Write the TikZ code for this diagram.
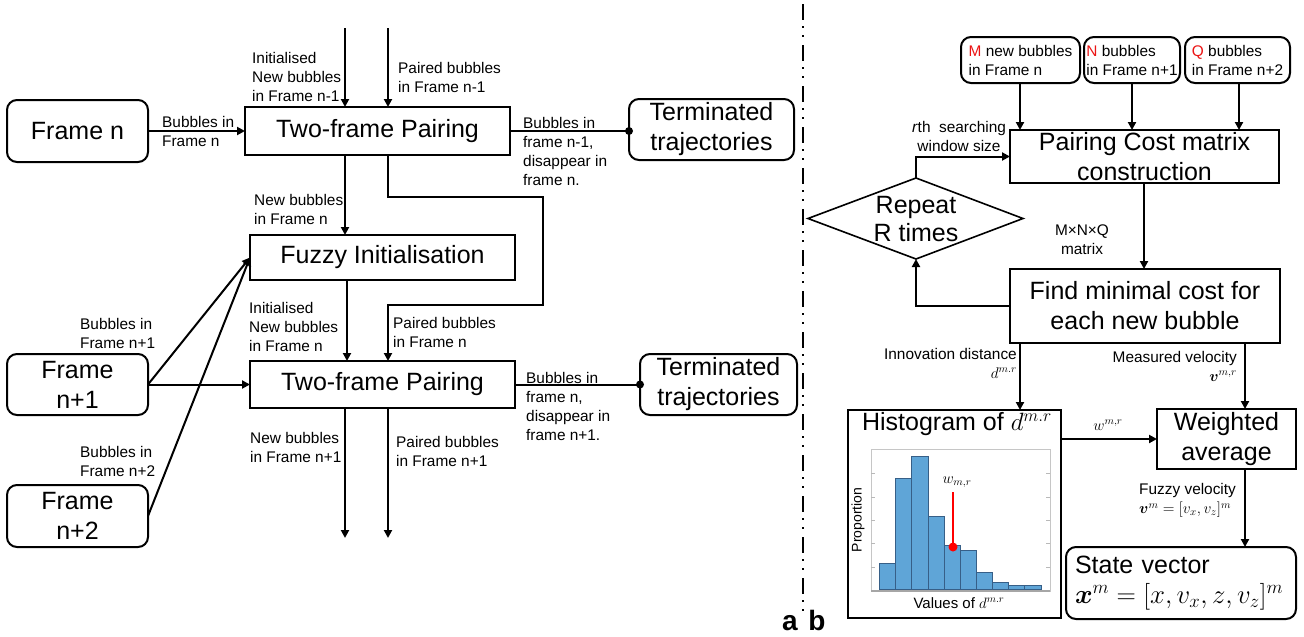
\RequirePackage{fix-cm}
\documentclass[tikz,border=0pt]{standalone}
\usepackage{amsmath}
\usepackage{fontspec}
\setmainfont{Liberation Sans}
\usetikzlibrary{arrows.meta}

\definecolor{barblue}{RGB}{95,165,215}
\definecolor{baredge}{RGB}{55,95,135}
\definecolor{mred}{RGB}{235,20,20}

\newcommand\fbig{\fontsize{25}{30}\selectfont}
\newcommand\fsmall{\fontsize{15.4}{19}\selectfont}

\begin{document}
\begin{tikzpicture}[x=1pt,y=-1pt,
  line/.style={line width=2pt},
  arr/.style={line, -{Triangle[length=8pt,width=8pt]}},
  box/.style={draw, line width=2pt, inner sep=0pt, outer sep=0pt, font=\fbig, align=center},
  rbox/.style={box, rounded corners=10pt},
  lab/.style={inner sep=0pt, font=\fsmall, align=left},
  labr/.style={inner sep=0pt, font=\fsmall, align=right}
]
\useasboundingbox (0,0) rectangle (1304,637);

% ---------------- part a ----------------
\node[rbox, minimum width=141pt, minimum height=62pt] (fn)  at (77.5,131)   {Frame n};
\node[rbox, minimum width=141pt, minimum height=61pt] (fn1) at (77.5,384.5) {Frame\\n+1};
\node[rbox, minimum width=141pt, minimum height=62pt] (fn2) at (77.5,516)   {Frame\\n+2};

\node[box, minimum width=265pt, minimum height=48pt] (tp1)   at (377.5,131)   {Two-frame Pairing};
\node[box, minimum width=265pt, minimum height=45pt] (fuzzy) at (382.5,257.5) {Fuzzy Initialisation};
\node[box, minimum width=265pt, minimum height=47pt] (tp2)   at (382.5,384.5) {Two-frame Pairing};

\node[rbox, minimum width=165pt, minimum height=61pt] (term1) at (711.5,129.5) {Terminated\\trajectories};
\node[rbox, minimum width=157pt, minimum height=61pt] (term2) at (718.5,384.5) {Terminated\\trajectories};

\coordinate (in1) at (345,28);
\coordinate (in2) at (388,28);
\coordinate (lp1) at (543,197);
\coordinate (lp2) at (543,305);
\coordinate (fzx) at (347,280);
\coordinate (out1) at (345,538);
\coordinate (out2) at (388,538);

\draw[arr] (in1) -- (in1 |- tp1.north);
\draw[arr] (in2) -- (in2 |- tp1.north);
\draw[arr] (fn) -- (tp1);
\draw[line] (tp1.east) -- (tp1.east -| term1.west);
\fill (tp1.east -| term1.west) circle (4pt);
\draw[arr] (tp1.south -| in1) -- (fuzzy.north -| in1);
\draw[arr] (tp1.south -| in2) |- (lp1) -- (lp2) -| (tp2.north -| in2);
\draw[arr] (fuzzy.south -| fzx) -- (tp2.north -| fzx);
\draw[line] (tp2.east) -- (tp2.east -| term2.west);
\fill (tp2.east -| term2.west) circle (4pt);
\draw[arr] (tp2.south -| out1) -- (out1);
\draw[arr] (tp2.south -| out2) -- (out2);
\draw[arr] (fn1.east) -- (fuzzy.west);
\draw[arr] (fn1.east) -- (tp2.west);
\draw[arr] (fn2.east) -- (fuzzy.west);

\node[lab, anchor=west] at (252,77)    {Initialised\\New bubbles\\in Frame n-1};
\node[lab, anchor=west] at (398,77)    {Paired bubbles\\in Frame n-1};
\node[lab, anchor=west] at (162,131.5) {Bubbles in\\Frame n};
\node[lab, anchor=west] at (523,151)   {Bubbles in\\frame n-1,\\disappear in\\frame n.};
\node[lab, anchor=west] at (254,209)   {New bubbles\\in Frame n};
\node[lab, anchor=west] at (249,327)   {Initialised\\New bubbles\\in Frame n};
\node[lab, anchor=west] at (393,332)   {Paired bubbles\\in Frame n};
\node[lab, anchor=west] at (526,406.5) {Bubbles in\\frame n,\\disappear in\\frame n+1.};
\node[lab, anchor=west] at (250,447.5) {New bubbles\\in Frame n+1};
\node[lab, anchor=west] at (396,451)   {Paired bubbles\\in Frame n+1};
\node[lab, anchor=west] at (80,333.5)  {Bubbles in\\Frame n+1};
\node[lab, anchor=west] at (80,461)    {Bubbles in\\Frame n+2};

% separator and panel letters
\draw[line width=2pt, dash pattern=on 16pt off 6pt on 2pt off 7pt on 2pt off 8pt] (803,4) -- (803,614);
\node[font=\fontsize{28}{30}\selectfont\bfseries, anchor=base, inner sep=0pt] (la) at (790,630) {a};
\node[font=\fontsize{28}{30}\selectfont\bfseries, anchor=base, inner sep=0pt] (lb) at (817,630) {b};

% ---------------- part b ----------------
\node[rbox, font=\fsmall, align=left, minimum width=119pt, minimum height=46pt] (mb) at (1020.5,60)
  {\textcolor{mred}{M} new bubbles\\in Frame n};
\node[rbox, font=\fsmall, align=left, minimum width=96pt, minimum height=46pt] (nb) at (1132,60)
  {\textcolor{mred}{N} bubbles\\in Frame n+1};
\node[rbox, font=\fsmall, align=left, minimum width=105pt, minimum height=46pt] (qb) at (1237.5,60)
  {\textcolor{mred}{Q} bubbles\\in Frame n+2};

\node[box, minimum width=269pt, minimum height=53pt] (pcm) at (1144.5,156.5) {Pairing Cost matrix\\construction};
\node[box, minimum width=270pt, minimum height=74pt] (fmc) at (1145,306) {Find minimal cost for\\each new bubble};

\node[inner sep=0pt, font=\fontsize{25}{28}\selectfont, align=center] (rep) at (916,219) {Repeat\\R times};
\coordinate (repl) at (808,218.5);
\coordinate (reptop) at (916,178);
\coordinate (repr) at (1023,218.5);
\coordinate (repbot) at (916,259);
\draw[line width=1.6pt, line join=miter] (repl) -- (reptop) -- (repr) -- (repbot) -- cycle;

\coordinate (cm) at (1020,0);
\coordinate (cn) at (1132,0);
\coordinate (cq) at (1239,0);
\draw[arr] (mb.south -| cm) -- (pcm.north -| cm);
\draw[arr] (nb.south -| cn) -- (pcm.north -| cn);
\draw[arr] (qb.south -| cq) -- (pcm.north -| cq);

\draw[arr] (reptop) |- (pcm.west);
\draw[arr] (pcm.south -| 1144,0) -- (fmc.north -| 1144,0);
\draw[arr] (fmc.west) -| (repbot);

\node[lab, align=center] at (959,136.5) {\textit{r}th\ \ searching\\window size};
\node[lab, align=center] at (1082,239.5) {M×N×Q\\matrix};

\node[box, minimum width=213pt, minimum height=208pt] (hist) at (954.5,514) {};
\node[box, minimum width=139pt, minimum height=60pt] (wavg) at (1226.5,439) {Weighted\\average};
\node[rbox, minimum width=230pt, minimum height=72pt, text width=212pt, align=left] (sv) at (1181,583)
  {State vector\\{\fontsize{26.8}{30}\selectfont$\boldsymbol{x}^m=[x,v_x,z,v_z]^m$}};

\coordinate (cx1) at (1020,0);
\coordinate (cx2) at (1245,0);
\draw[arr] (fmc.south -| cx1) -- (hist.north -| cx1);
\draw[arr] (fmc.south -| cx2) -- (wavg.north -| cx2);
\draw[arr] (hist.east |- wavg.west) -- (wavg.west);
\draw[arr] (wavg.south -| cx2) -- (sv.north -| cx2);

\node[labr, anchor=east] at (1017,363.5) {Innovation distance\\$d^{m.r}$};
\node[labr, anchor=east] at (1237,366)   {Measured velocity\\$\boldsymbol{v}^{m,r}$};
\node[lab] at (1108,425) {$w^{m,r}$};
\node[lab, anchor=west] at (1139,500.5) {Fuzzy velocity\\$\boldsymbol{v}^m=[v_x,v_z]^m$};

% histogram drawing
\node[inner sep=0pt, font=\fbig] (htitle) at (957,424) {Histogram of $d^{m.r}$};
\draw[gray!45, line width=0.8pt] (871,449) rectangle (1050,591);
\foreach \t in {473,497,520,543,567} {
  \draw[gray!55, line width=0.6pt] (871,\t) -- (875,\t);
  \draw[gray!55, line width=0.6pt] (1050,\t) -- (1046,\t);
}
\foreach \a/\b/\t in {879/895/563, 895/911/478, 911/928/456, 928/944/516, 944/960/545,
                      960/976/550, 976/992/572, 992/1008/582, 1008/1024/585, 1024/1041/585}
  \filldraw[fill=barblue, draw=baredge, line width=0.6pt] (\a,589) rectangle (\b,\t);
\draw[gray!70, line width=1.4pt] (871,591) -- (1050,591);
\draw[red, line width=1.5pt] (953,492) -- (953,547);
\fill[red] (953,547) circle (4.5pt);
\node[inner sep=0pt, font=\fsmall] at (957,482) {$w_{m,r}$};
\node[inner sep=0pt, font=\fontsize{14}{16}\selectfont, rotate=90] at (858,520) {Proportion};
\node[inner sep=0pt, font=\fontsize{15}{18}\selectfont] at (959,603) {Values of $d^{m.r}$};

\end{tikzpicture}
\end{document}
